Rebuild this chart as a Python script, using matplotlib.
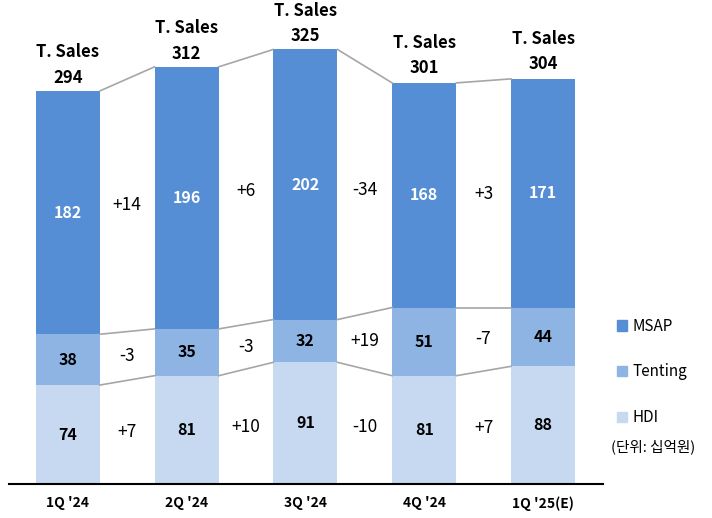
import matplotlib
matplotlib.use('Agg')
import matplotlib.pyplot as plt
from matplotlib.patches import Patch
import numpy as np

plt.rcParams['font.family'] = ['Noto Sans CJK KR', 'DejaVu Sans']

# data (십억원)
quarters = ["1Q '24", "2Q '24", "3Q '24", "4Q '24", "1Q '25(E)"]
hdi = [74, 81, 91, 81, 88]
tenting = [38, 35, 32, 51, 44]
msap = [182, 196, 202, 168, 171]
totals = [294, 312, 325, 301, 304]

colors = {'MSAP': '#558ED5', 'Tenting': '#8EB4E3', 'HDI': '#C6D9F1'}
line_color = '#A6A6A6'

hdi = np.array(hdi)
tenting = np.array(tenting)
msap = np.array(msap)
x = np.arange(len(quarters))
w = 0.54

fig = plt.figure(figsize=(7.12, 5.18), dpi=100)
ax = fig.add_axes([9 / 712, 1 - 484 / 518, 594 / 712, 484 / 518])

ax.bar(x, hdi, w, color=colors['HDI'])
ax.bar(x, tenting, w, bottom=hdi, color=colors['Tenting'])
ax.bar(x, msap, w, bottom=hdi + tenting, color=colors['MSAP'])

# connector lines between segment tops
levels = [hdi, hdi + tenting, hdi + tenting + msap]
for lv in levels:
    for i in range(len(x) - 1):
        ax.plot([x[i] + w / 2, x[i + 1] - w / 2], [lv[i], lv[i + 1]],
                color=line_color, lw=1.2, zorder=1)

# values inside bars
segs = [(hdi, np.zeros(len(x))), (tenting, hdi), (msap, hdi + tenting)]
for vals, bottom in segs:
    for i in range(len(x)):
        txt_color = 'white' if vals is msap else 'black'
        ax.text(x[i], bottom[i] + vals[i] / 2, str(vals[i]), ha='center', va='center',
                fontsize=11.5, fontweight='bold', color=txt_color)

# deltas between bars
for vals, bottom in segs:
    centers = bottom + vals / 2
    for i in range(len(x) - 1):
        d = vals[i + 1] - vals[i]
        ax.text(x[i] + 0.5, (centers[i] + centers[i + 1]) / 2, f'{d:+d}',
                ha='center', va='center', fontsize=12.5, color='black')

# total labels
for i in range(len(x)):
    ax.annotate(f'T. Sales\n{totals[i]}', (x[i], totals[i]), xytext=(0, 3),
                textcoords='offset points', ha='center', va='bottom',
                fontsize=12, fontweight='bold', linespacing=1.55)

ax.set_xlim(-0.495, 4.505)
ax.set_ylim(0, 362)
ax.set_xticks(x)
ax.set_xticklabels(quarters, fontsize=10, fontweight='bold')
ax.tick_params(axis='x', length=0, pad=9)
ax.set_yticks([])
for s in ['top', 'right', 'left']:
    ax.spines[s].set_visible(False)
ax.spines['bottom'].set_linewidth(1.5)

handles = [Patch(color=colors[k]) for k in ['MSAP', 'Tenting', 'HDI']]
fig.legend(handles, ['MSAP', 'Tenting', 'HDI'], loc='upper left',
           bbox_to_anchor=(603 / 712, 1 - 304 / 518), frameon=False,
           handlelength=0.7, handleheight=0.7, handletextpad=0.3,
           labelspacing=1.88, fontsize=11)
fig.text(611 / 712, 1 - 447 / 518, '(단위: 십억원)', fontsize=10.5, va='center')

fig.savefig('out.png', dpi=100)
